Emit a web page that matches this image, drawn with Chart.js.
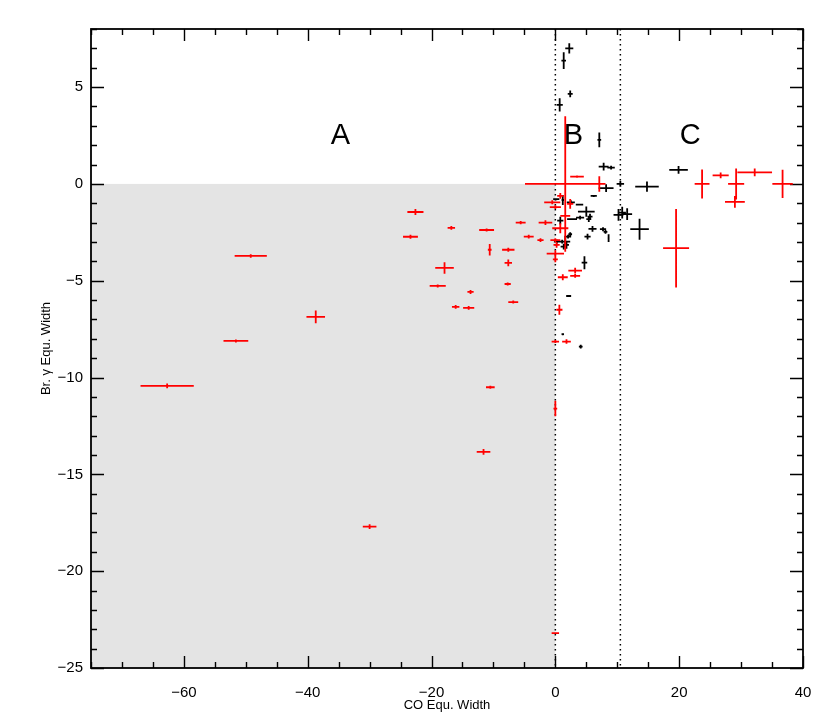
<!DOCTYPE html>
<html>
<head>
<meta charset="utf-8">
<script src="https://cdn.jsdelivr.net/npm/chart.js@4.4.0/dist/chart.umd.min.js"></script>
<style>
  html, body { margin: 0; padding: 0; background: #fff; }
  #wrap { width: 830px; height: 727px; }
</style>
</head>
<body>
<div id="wrap"><canvas id="chart"></canvas></div>
<script>
// red sample: CO width, Br gamma width and their errors
const redX = [-62.7, -51.6, -49.2, -38.7, -30.0, -23.4, -22.6, -19.0, -17.9, -16.8, -16.1, -14.0, -13.7, -11.6, -11.1, -10.6, -10.5, -7.6, -7.6, -7.7, -6.8, -5.6, -4.3, -2.4, -1.6, 1.6, 7.1, 3.5, 0.8, -0.5, 0.0, 2.4, 1.6, 0.8, 0.0, 0.2, 0.0, 0.0, 1.2, 3.2, 3.2, 0.65, 0.0, 1.8, 0.0, 0.0, 19.5, 23.7, 26.7, 29.2, 29.0, 32.2, 36.7];
const redY = [-10.43, -8.11, -3.72, -6.87, -17.7, -2.73, -1.45, -5.27, -4.34, -2.27, -6.35, -6.40, -5.58, -13.84, -2.38, -3.40, -10.5, -3.40, -4.08, -5.17, -6.10, -2.00, -2.72, -2.90, -2.00, 0.0, 0.0, 0.38, -0.62, -0.95, -1.2, -1.03, -1.65, -2.29, -2.90, -3.15, -3.60, -3.90, -4.82, -4.48, -4.75, -6.50, -8.14, -8.14, -11.6, -23.2, -3.32, 0.0, 0.44, 0.0, -0.93, 0.60, 0.0];
const redXErr = [4.3, 2.0, 2.6, 1.5, 1.1, 1.2, 1.3, 1.3, 1.5, 0.6, 0.6, 0.9, 0.5, 1.1, 1.2, 0.3, 0.7, 1.0, 0.6, 0.5, 0.8, 0.8, 0.8, 0.5, 1.1, 6.5, 1.0, 1.1, 0.5, 1.3, 0.9, 0.5, 0.8, 1.3, 0.8, 0.5, 1.4, 0.4, 0.8, 1.1, 0.8, 0.5, 0.6, 0.7, 0.3, 0.6, 2.1, 1.2, 1.3, 1.3, 1.6, 2.8, 1.65];
const redYErr = [0.12, 0.08, 0.09, 0.33, 0.12, 0.1, 0.15, 0.08, 0.3, 0.1, 0.1, 0.1, 0.1, 0.15, 0.08, 0.3, 0.08, 0.1, 0.17, 0.08, 0.08, 0.08, 0.1, 0.1, 0.12, 3.5, 0.4, 0.06, 0.15, 0.1, 0.1, 0.25, 0.2, 0.26, 0.1, 0.15, 0.17, 0.15, 0.15, 0.15, 0.1, 0.26, 0.08, 0.12, 0.4, 0.05, 2.03, 0.75, 0.15, 0.8, 0.3, 0.2, 0.73];

// black sample
const blackX = [2.25, 1.35, 2.4, 0.7, 7.1, 7.8, 9.0, 10.5, 8.2, 14.8, 6.2, 19.9, 13.6, 10.2, 10.8, 11.6, 2.5, 3.9, 1.2, 0.15, 5.0, 5.6, 4.0, 2.7, 5.4, 6.0, 7.7, 8.1, 8.6, 5.2, 2.4, 2.05, 1.6, 1.1, 1.8, 1.35, 4.7, 2.15, 1.2, 4.1, 0.27, 0.8];
const blackY = [7.0, 6.37, 4.65, 4.08, 2.27, 0.89, 0.84, 0.0, -0.22, -0.14, -0.62, 0.72, -2.34, -1.6, -1.48, -1.56, -0.95, -1.07, -0.83, -0.79, -1.43, -1.69, -1.74, -1.82, -1.82, -2.32, -2.34, -2.48, -2.80, -2.72, -2.60, -2.72, -2.98, -2.98, -3.15, -3.24, -4.07, -5.79, -7.76, -8.40, -2.98, -1.9];
const blackXErr = [0.65, 0.37, 0.4, 0.5, 0.3, 0.8, 0.6, 0.6, 1.2, 1.9, 0.5, 1.5, 1.5, 0.8, 0.6, 0.8, 0.65, 0.6, 0.2, 0.5, 1.35, 0.4, 0.65, 0.8, 0.4, 0.65, 0.5, 0.3, 0.15, 0.5, 0.3, 0.5, 0.8, 0.5, 0.4, 0.5, 0.45, 0.4, 0.2, 0.3, 0.5, 0.5];
const blackYErr = [0.26, 0.43, 0.17, 0.34, 0.38, 0.2, 0.1, 0.15, 0.2, 0.26, 0.05, 0.2, 0.54, 0.3, 0.3, 0.3, 0.1, 0.05, 0.26, 0.05, 0.26, 0.15, 0.1, 0.05, 0.15, 0.15, 0.1, 0.1, 0.2, 0.15, 0.1, 0.1, 0.3, 0.1, 0.2, 0.15, 0.34, 0.05, 0.05, 0.1, 0.1, 0.2];

const xMin = -75, xMax = 40;
const yMin = -25, yMax = 8;
const dividers = [0, 10.5];
const regionLabels = [
  { text: 'A', x: -34.7, y: 2.45 },
  { text: 'B', x: 2.9, y: 2.45 },
  { text: 'C', x: 21.8, y: 2.45 },
];

const FONT = '"Liberation Sans", Arial, Helvetica, sans-serif';

function makePoints(xs, ys, xe, ye) {
  return xs.map((x, i) => ({ x, y: ys[i], xErr: xe[i], yErr: ye[i] }));
}

const fmt = (v) => (v < 0 ? '\u2212' + Math.abs(v) : String(v));

// grey box, dotted dividers, A/B/C labels, frame and inward ticks
const decorPlugin = {
  id: 'decor',
  beforeDatasetsDraw(chart) {
    const { ctx, chartArea, scales } = chart;
    const xs = scales.x, ys = scales.y;
    ctx.save();
    ctx.fillStyle = '#e4e4e4';
    const gx0 = xs.getPixelForValue(xMin), gx1 = xs.getPixelForValue(0);
    const gy0 = ys.getPixelForValue(0), gy1 = ys.getPixelForValue(yMin);
    ctx.fillRect(gx0, gy0, gx1 - gx0, gy1 - gy0);

    ctx.strokeStyle = '#000';
    ctx.lineWidth = 1.5;
    ctx.setLineDash([1.5, 3.5]);
    dividers.forEach((v) => {
      const px = xs.getPixelForValue(v);
      ctx.beginPath();
      ctx.moveTo(px, chartArea.top);
      ctx.lineTo(px, chartArea.bottom);
      ctx.stroke();
    });
    ctx.setLineDash([]);

    ctx.fillStyle = '#000';
    ctx.font = '29px ' + FONT;
    ctx.textAlign = 'center';
    ctx.textBaseline = 'middle';
    regionLabels.forEach((l) => {
      ctx.fillText(l.text, xs.getPixelForValue(l.x), ys.getPixelForValue(l.y));
    });
    ctx.restore();
  },
  afterDatasetsDraw(chart) {
    const { ctx, chartArea, scales } = chart;
    const xs = scales.x, ys = scales.y;
    const { left, right, top, bottom } = chartArea;
    ctx.save();
    ctx.strokeStyle = '#000';
    ctx.lineWidth = 1.8;
    ctx.strokeRect(left, top, right - left, bottom - top);

    ctx.lineWidth = 1.4;
    ctx.beginPath();
    for (let v = xMin; v <= xMax; v += 5) {
      const px = Math.round(xs.getPixelForValue(v)) + 0.5;
      const len = v % 20 === 0 ? 12 : 6;
      ctx.moveTo(px, bottom); ctx.lineTo(px, bottom - len);
      ctx.moveTo(px, top); ctx.lineTo(px, top + len);
    }
    for (let v = yMin; v <= yMax; v += 1) {
      const py = Math.round(ys.getPixelForValue(v)) + 0.5;
      const len = v % 5 === 0 ? 13 : 6;
      ctx.moveTo(left, py); ctx.lineTo(left + len, py);
      ctx.moveTo(right, py); ctx.lineTo(right - len, py);
    }
    ctx.stroke();
    ctx.restore();
  },
};

// error bars drawn as crosses through the scales
const errorBarPlugin = {
  id: 'errorBars',
  afterDatasetsDraw(chart) {
    const { ctx, scales, chartArea } = chart;
    const xs = scales.x, ys = scales.y;
    ctx.save();
    ctx.beginPath();
    ctx.rect(chartArea.left, chartArea.top,
      chartArea.right - chartArea.left, chartArea.bottom - chartArea.top);
    ctx.clip();
    chart.data.datasets.forEach((ds) => {
      ctx.strokeStyle = ds.borderColor;
      ctx.lineWidth = 1.8;
      ctx.beginPath();
      ds.data.forEach((p) => {
        const cx = xs.getPixelForValue(p.x);
        const cy = ys.getPixelForValue(p.y);
        ctx.moveTo(xs.getPixelForValue(p.x - p.xErr), cy);
        ctx.lineTo(xs.getPixelForValue(p.x + p.xErr), cy);
        ctx.moveTo(cx, ys.getPixelForValue(p.y - p.yErr));
        ctx.lineTo(cx, ys.getPixelForValue(p.y + p.yErr));
      });
      ctx.stroke();
    });
    ctx.restore();
  },
};

new Chart(document.getElementById('chart'), {
  type: 'scatter',
  data: {
    datasets: [
      {
        label: 'black',
        data: makePoints(blackX, blackY, blackXErr, blackYErr),
        borderColor: '#000000',
        backgroundColor: '#000000',
        pointRadius: 0,
      },
      {
        label: 'red',
        data: makePoints(redX, redY, redXErr, redYErr),
        borderColor: '#ff0000',
        backgroundColor: '#ff0000',
        pointRadius: 0,
      },
    ],
  },
  options: {
    responsive: true,
    maintainAspectRatio: false,
    animation: false,
    layout: { padding: { left: 0, right: 27, top: 29, bottom: 0 } },
    plugins: {
      legend: { display: false },
      tooltip: { enabled: false },
    },
    scales: {
      x: {
        type: 'linear',
        min: xMin,
        max: xMax,
        grid: { display: false },
        border: { display: false },
        ticks: {
          stepSize: 20,
          padding: 8,
          color: '#000',
          font: { family: FONT, size: 15 },
          maxRotation: 0,
          callback: (v) => (v % 20 === 0 ? fmt(v) : ''),
        },
        title: {
          display: true,
          text: 'CO Equ. Width',
          color: '#000',
          font: { family: FONT, size: 13 },
          padding: { top: 2, bottom: 14 },
        },
        afterFit: (scale) => { scale.height = 59; },
      },
      y: {
        type: 'linear',
        min: yMin,
        max: yMax,
        grid: { display: false },
        border: { display: false },
        ticks: {
          stepSize: 5,
          padding: 0,
          color: '#000',
          font: { family: FONT, size: 15 },
          callback: (v) => (v % 5 === 0 ? fmt(v) : ''),
        },
        title: {
          display: true,
          text: 'Br. γ Equ. Width',
          color: '#000',
          font: { family: FONT, size: 13 },
          padding: { top: 39, bottom: 0 },
        },
        afterFit: (scale) => { scale.width = 91; },
      },
    },
  },
  plugins: [decorPlugin, errorBarPlugin],
});
</script>
</body>
</html>
